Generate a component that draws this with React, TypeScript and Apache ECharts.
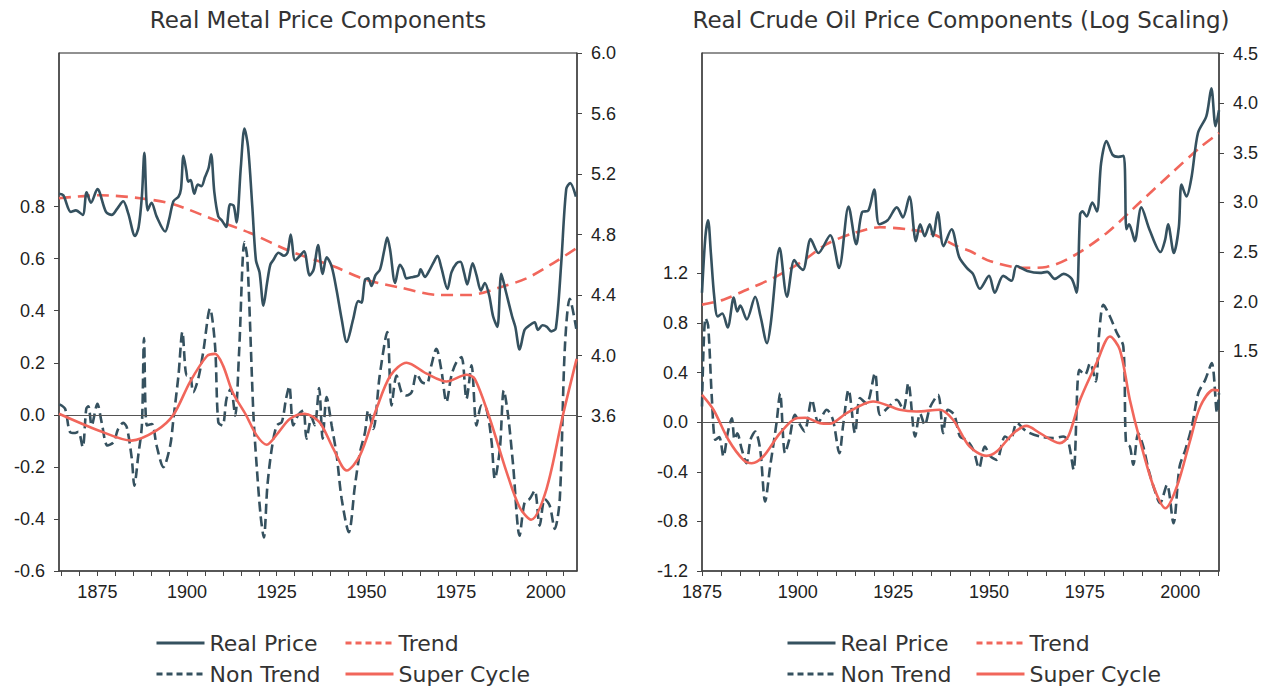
import React, { useEffect, useRef } from 'react';
import * as echarts from 'echarts';

const DARK = '#35515f';
const RED = '#f1665b';

// ---------- Metal panel ----------
const metalRealPrice: [number, number][] = [
  [1864.3, 5.07], [1865.5, 5.06], [1867.6, 4.95], [1869, 4.96], [1870.9, 4.93], [1872, 5.08], [1873.2, 5.01],
  [1875, 5.10], [1877.4, 4.95], [1879, 4.93], [1880.5, 4.97], [1882.2, 5.02], [1883.6, 4.94], [1885.5, 4.79],
  [1886.5, 4.85], [1887.4, 5.05], [1888.1, 5.34], [1889, 4.96], [1890.1, 5.01], [1891.5, 4.92], [1893.9, 4.82],
  [1895, 4.90], [1896.2, 5.02], [1897.6, 5.05], [1898.3, 5.10], [1899, 5.32], [1899.8, 5.22], [1900.3, 5.15],
  [1901, 5.16], [1902, 5.07], [1903, 5.13], [1904, 5.12], [1905, 5.18], [1906, 5.24], [1906.7, 5.33],
  [1907.6, 5.08], [1908.7, 4.92], [1909.8, 4.89], [1910.9, 4.85], [1912, 5.00], [1913, 4.99], [1913.8, 4.88],
  [1915, 5.25], [1916, 5.50], [1917, 5.38], [1918.2, 4.98], [1919.2, 4.63], [1920.2, 4.55], [1921.3, 4.33],
  [1922.3, 4.48], [1923.2, 4.60], [1924, 4.63], [1925.5, 4.68], [1927, 4.66], [1928, 4.68], [1928.9, 4.80],
  [1930.1, 4.63], [1931.5, 4.66], [1932.6, 4.69], [1934.2, 4.53], [1935.3, 4.57], [1936.5, 4.73], [1937.8, 4.54],
  [1938.9, 4.65], [1940.3, 4.59], [1941.7, 4.43], [1943.1, 4.24], [1944.5, 4.09], [1946.3, 4.24], [1947.7, 4.36],
  [1948.6, 4.35], [1949.6, 4.50], [1950.5, 4.51], [1951.4, 4.46], [1952.5, 4.53], [1953.8, 4.57], [1955, 4.70],
  [1955.8, 4.78], [1956.6, 4.70], [1958, 4.48], [1959.3, 4.60], [1960.2, 4.57], [1961.2, 4.51], [1963, 4.52],
  [1964.5, 4.53], [1965.1, 4.57], [1966.3, 4.52], [1967.7, 4.57], [1968.8, 4.62], [1969.8, 4.66], [1970.9, 4.58],
  [1972.6, 4.44], [1973.7, 4.55], [1975.1, 4.61], [1976.2, 4.62], [1977.2, 4.55], [1978.1, 4.47], [1979.6, 4.61],
  [1980.7, 4.53], [1981.9, 4.43], [1983, 4.48], [1984.2, 4.40], [1985.3, 4.26], [1986.5, 4.19], [1987.6, 4.54],
  [1988.8, 4.43], [1990.6, 4.26], [1991.5, 4.19], [1992.7, 4.04], [1994.1, 4.17], [1995.5, 4.20], [1996.9, 4.22],
  [1997.8, 4.17], [1999.1, 4.20], [2000.3, 4.19], [2001.5, 4.16], [2002.8, 4.18], [2004.3, 4.61], [2005.7, 5.10],
  [2006.8, 5.14], [2008.4, 5.05],
];
const metalTrend: [number, number][] = [
  [1864.3, 5.04], [1875.8, 5.06], [1886.9, 5.04], [1896.2, 5.00], [1907.4, 4.90], [1917.6, 4.81], [1928.7, 4.69],
  [1940.8, 4.59], [1950, 4.50], [1959.3, 4.45], [1970.4, 4.40], [1978.8, 4.40], [1987.1, 4.45], [1994.6, 4.51],
  [2002, 4.61], [2008.6, 4.71],
];
const metalNonTrend: [number, number][] = [
  [1864.4, 0.04], [1866, 0.023], [1867.4, -0.067], [1868.8, -0.07], [1869.7, -0.065], [1870.9, -0.124],
  [1871.9, 0.023], [1872.5, 0.033], [1873.4, -0.041], [1875, 0.042], [1876.2, -0.03], [1877.8, -0.118],
  [1879.5, -0.105], [1880.8, -0.054], [1882.2, -0.031], [1883.2, -0.048], [1884.6, -0.169], [1885.3, -0.272],
  [1886.4, -0.156], [1887.4, -0.041], [1888, 0.295], [1888.8, -0.041], [1890.2, -0.035], [1891.5, -0.118],
  [1893.4, -0.201], [1895.3, -0.118], [1896.2, -0.015], [1897.6, 0.151], [1898.7, 0.318], [1899.9, 0.151],
  [1900.8, 0.151], [1901.7, 0.087], [1903.1, 0.138], [1904.5, 0.241], [1906.4, 0.408], [1907.8, 0.266],
  [1908.7, -0.028], [1909.9, -0.041], [1911, 0.062], [1912.2, 0.10], [1913.4, -0.003], [1914.5, 0.24],
  [1916, 0.664], [1916.8, 0.60], [1918.5, 0.0], [1919.4, -0.195], [1920.5, -0.387], [1921.4, -0.471],
  [1922.4, -0.272], [1923.6, -0.131], [1925, -0.041], [1926.4, -0.028], [1927.6, 0.062], [1928.5, 0.110],
  [1929.6, -0.041], [1931, 0.0], [1932.4, 0.017], [1933.3, -0.092], [1934.7, -0.01], [1935.6, -0.04],
  [1936.8, 0.103], [1937.8, -0.092], [1938.9, 0.068], [1940.3, -0.04], [1941.7, -0.156], [1943.1, -0.323],
  [1945.1, -0.451], [1946.8, -0.272], [1948.2, -0.144], [1949.6, -0.067], [1950.5, 0.017], [1951.9, -0.054],
  [1953.7, 0.151], [1955.8, 0.318], [1957, 0.036], [1958.4, 0.151], [1959.8, 0.087], [1961.2, 0.074],
  [1962.6, 0.087], [1964, 0.158], [1965.4, 0.126], [1966.8, 0.119], [1968.1, 0.19], [1969.5, 0.254],
  [1970.9, 0.171], [1972.3, 0.049], [1973.7, 0.151], [1975.1, 0.203], [1976.5, 0.222], [1977.9, 0.062],
  [1979.3, 0.19], [1980.7, -0.041], [1982.1, 0.036], [1983.5, 0.02], [1984.9, -0.105], [1985.8, -0.246],
  [1987.2, -0.131], [1988.3, 0.094], [1989.5, -0.003], [1990.9, -0.195], [1992.7, -0.464], [1994.1, -0.336],
  [1995.5, -0.323], [1996.9, -0.291], [1998.3, -0.426], [1999.7, -0.323], [2001.1, -0.349], [2002.5, -0.438],
  [2003.9, -0.323], [2005.3, 0.254], [2006.7, 0.446], [2008.5, 0.331],
];
const metalSuperCycle: [number, number][] = [
  [1864.3, 0.004], [1875.3, -0.06], [1884.5, -0.099], [1891.5, -0.06], [1896.2, 0], [1900.8, 0.126],
  [1905.5, 0.225], [1907.8, 0.234], [1910, 0.19], [1912.7, 0.087], [1916.4, 0], [1919.4, -0.079],
  [1922.2, -0.115], [1925.5, -0.067], [1928.7, -0.015], [1932.8, 0.004], [1936.9, -0.028], [1940.8, -0.131],
  [1944.5, -0.214], [1948.2, -0.156], [1952.8, 0.023], [1956.7, 0.151], [1961.2, 0.2], [1966.8, 0.158],
  [1972.3, 0.128], [1977.9, 0.154], [1980.2, 0.138], [1984.4, -0.015], [1989.1, -0.221], [1992.7, -0.355],
  [1995.9, -0.403], [2000.2, -0.285], [2004.8, 0], [2008.6, 0.215],
];

// ---------- Oil panel ----------
const oilRealPrice: [number, number][] = [
  [1875, 2.09], [1875.9, 2.66], [1876.6, 2.82], [1877.3, 2.5], [1878.2, 2.05], [1879.1, 1.85], [1880.3, 1.88],
  [1881.7, 1.74], [1883.3, 2.04], [1884.2, 1.90], [1885, 1.96], [1886.7, 1.82], [1888.9, 2.05], [1890.3, 1.85],
  [1892, 1.58], [1893, 1.79], [1895.3, 2.54], [1897.2, 2.05], [1899.1, 2.42], [1900.2, 2.36], [1901.4, 2.32],
  [1903.4, 2.63], [1905.4, 2.49], [1908.5, 2.67], [1910.8, 2.34], [1913.3, 2.96], [1915.3, 2.58], [1916.8, 2.90],
  [1918.5, 2.92], [1920, 3.13], [1921.3, 2.78], [1923.5, 2.82], [1925.9, 2.95], [1927.5, 2.85], [1929.2, 3.06],
  [1930.9, 2.61], [1932, 2.78], [1933.2, 2.66], [1934.5, 2.78], [1935.4, 2.66], [1936.6, 2.90], [1938.1, 2.56],
  [1940.2, 2.73], [1942.2, 2.45], [1944.2, 2.34], [1945.8, 2.28], [1947.6, 2.13], [1950, 2.26], [1951.5, 2.09],
  [1953.7, 2.26], [1955.9, 2.21], [1957.2, 2.36], [1960, 2.31], [1963.3, 2.29], [1965.2, 2.30], [1967.2, 2.23],
  [1969.5, 2.28], [1971.6, 2.23], [1972.9, 2.09], [1973.8, 2.88], [1974.4, 2.91], [1975.5, 2.86], [1977, 3.00],
  [1978.2, 2.91], [1979.3, 3.40], [1980.7, 3.62], [1982.3, 3.48], [1983.8, 3.46], [1985.2, 3.47], [1985.9, 2.73],
  [1986.6, 2.78], [1987.4, 2.70], [1988.1, 2.61], [1989.8, 2.95], [1992, 2.72], [1994.8, 2.50], [1996, 2.62],
  [1996.8, 2.78], [1998.3, 2.49], [1999.6, 2.75], [2000.3, 3.18], [2001.6, 3.06], [2002.9, 3.25], [2004.6, 3.70],
  [2006.8, 3.87], [2008.1, 4.15], [2009.2, 3.77], [2010.1, 3.93],
];
const oilTrend: [number, number][] = [
  [1875, 1.97], [1880.6, 2.02], [1886.7, 2.12], [1893.7, 2.24], [1900.6, 2.39], [1907.6, 2.58], [1914.6, 2.69],
  [1921.5, 2.75], [1928.5, 2.73], [1935.4, 2.68], [1941.5, 2.56], [1945, 2.51], [1950.2, 2.41], [1958.9, 2.34],
  [1965, 2.35], [1972, 2.46], [1980.7, 2.69], [1989.4, 3.00], [1998.1, 3.31], [2005, 3.55], [2010.1, 3.70],
];
const oilNonTrend: [number, number][] = [
  [1875, 0.126], [1875.9, 0.84], [1876.6, 0.78], [1877.6, 0.18], [1878.5, -0.142], [1879.5, -0.12],
  [1880.6, -0.277], [1881.7, -0.09], [1882.8, 0.032], [1883.5, -0.14], [1884.2, -0.09], [1885.4, -0.22],
  [1886.6, -0.331], [1887.7, -0.14], [1888.9, -0.075], [1890.2, -0.22], [1891.5, -0.64], [1892.8, -0.36],
  [1894.5, 0.0], [1895.4, 0.234], [1896.7, -0.25], [1897.8, -0.14], [1899.3, 0.059], [1900.6, -0.02],
  [1901.8, -0.075], [1903.7, 0.18], [1905.4, 0.0], [1907.6, 0.10], [1909.2, 0.02], [1910.9, -0.25],
  [1911.9, -0.02], [1913.3, 0.261], [1915, -0.089], [1916.3, 0.194], [1918, 0.15], [1920.2, 0.395],
  [1921.5, 0.059], [1923.7, 0.12], [1925.9, 0.18], [1927.6, 0.10], [1928.9, 0.315], [1930.7, -0.116],
  [1932, 0.07], [1933.2, -0.022], [1934.6, 0.12], [1936.7, 0.22], [1938, -0.089], [1939.2, 0.10],
  [1940.9, 0.06], [1942.4, -0.116], [1944.1, -0.142], [1945.9, -0.223], [1947.4, -0.371], [1948.9, -0.196],
  [1950.4, -0.276], [1952, -0.304], [1954.2, -0.116], [1955.6, -0.14], [1957.3, -0.008], [1959.8, -0.075],
  [1963.3, -0.116], [1966.8, -0.129], [1969.4, -0.116], [1970.7, -0.155], [1972.1, -0.384], [1973.6, 0.422],
  [1975.1, 0.382], [1976.4, 0.475], [1977.9, 0.328], [1978.8, 0.72], [1979.9, 0.946], [1981.6, 0.852],
  [1983.4, 0.72], [1985.1, 0.61], [1985.8, -0.169], [1986.8, -0.196], [1987.7, -0.344], [1989, -0.089],
  [1990.3, -0.196], [1991.7, -0.384], [1993.2, -0.54], [1994.7, -0.653], [1996.5, -0.505], [1998.2, -0.815],
  [1999.8, -0.358], [2001.3, -0.223], [2003, -0.035], [2004.7, 0.234], [2006.5, 0.341], [2008.2, 0.476],
  [2009.6, 0.073], [2010.1, 0.234],
];
const oilSuperCycle: [number, number][] = [
  [1875, 0.22], [1878, 0.10], [1881.9, -0.142], [1885.8, -0.304], [1888, -0.331], [1891, -0.277],
  [1895.4, -0.089], [1899.7, 0.032], [1902, 0.035], [1905.8, -0.008], [1908.4, -0.013], [1912.8, 0.073],
  [1919.7, 0.167], [1926.7, 0.10], [1931, 0.086], [1937.1, 0.10], [1940.6, 0.019], [1944.9, -0.196],
  [1949.3, -0.272], [1952, -0.237], [1956.4, -0.089], [1959.8, -0.03], [1963.3, -0.089], [1968.5, -0.169],
  [1970.7, -0.116], [1973.8, 0.18], [1978.1, 0.476], [1981.6, 0.691], [1984.2, 0.583], [1986.8, 0.18],
  [1989.4, -0.142], [1993, -0.519], [1996.1, -0.694], [1999.1, -0.519], [2002.6, -0.142], [2005.2, 0.126],
  [2008.7, 0.26], [2010.1, 0.255],
];

// ---------- tick labels ----------
const yearLabels = [1875, 1900, 1925, 1950, 1975, 2000];
const metalYearTicks = [1865, 1870, 1875, 1880, 1885, 1890, 1895, 1900, 1905, 1910, 1915, 1920, 1925, 1930, 1935, 1940, 1945, 1950, 1955, 1960, 1965, 1970, 1975, 1980, 1985, 1990, 1995, 2000, 2005];
const oilYearTicks = [1875, 1880, 1885, 1890, 1895, 1900, 1905, 1910, 1915, 1920, 1925, 1930, 1935, 1940, 1945, 1950, 1955, 1960, 1965, 1970, 1975, 1980, 1985, 1990, 1995, 2000, 2005, 2010];
const metalLeftTicks = [-0.6, -0.4, -0.2, 0.0, 0.2, 0.4, 0.6, 0.8];
const metalRightTicks = [3.6, 4.0, 4.4, 4.8, 5.2, 5.6, 6.0];
const oilLeftTicks = [-1.2, -0.8, -0.4, 0.0, 0.4, 0.8, 1.2];
const oilRightTicks = [1.5, 2.0, 2.5, 3.0, 3.5, 4.0, 4.5];

const AXIS_COLOR = '#444';
const LABEL_FONT = { fontSize: 18, color: '#222', fontFamily: 'Liberation Sans, Arial, sans-serif' };

function xAxis(gridIndex: number, min: number, max: number, ticks: number[]) {
  return {
    type: 'value', gridIndex, min, max,
    axisLine: { show: true, onZero: false, lineStyle: { color: AXIS_COLOR, width: 1.5 } },
    axisTick: { show: true, length: 5, customValues: ticks, lineStyle: { color: AXIS_COLOR, width: 1 } },
    axisLabel: { customValues: yearLabels, margin: 12, ...LABEL_FONT, formatter: (v: number) => String(Math.round(v)) },
    splitLine: { show: false },
  };
}
function yAxis(gridIndex: number, position: string, min: number, max: number, ticks: number[]) {
  return {
    type: 'value', gridIndex, position, min, max,
    axisLine: { show: true, onZero: false, lineStyle: { color: AXIS_COLOR, width: 1.5 } },
    axisTick: { show: true, length: 5, customValues: ticks, lineStyle: { color: AXIS_COLOR, width: 1 } },
    axisLabel: { customValues: ticks, margin: 14, ...LABEL_FONT, formatter: (v: number) => v.toFixed(1) },
    splitLine: { show: false },
  };
}

const SMOOTH = 0.3;
function lineSeries(name: string, data: [number, number][], xi: number, yi: number, color: string, dash: any, z: number, extra: any = {}) {
  return {
    type: 'line', name, data, xAxisIndex: xi, yAxisIndex: yi, smooth: SMOOTH, symbol: 'none', showSymbol: false,
    lineStyle: { color, width: 2.6, type: dash }, itemStyle: { color }, z, silent: true, ...extra,
  };
}
const zeroLine = {
  markLine: {
    silent: true, symbol: ['none', 'none'], label: { show: false },
    lineStyle: { color: '#555', width: 1, type: 'solid' }, data: [{ yAxis: 0 }],
  },
};

const LEG_FONT = { fontSize: 22, color: '#333', fontFamily: 'DejaVu Sans, sans-serif' };
function legend(name: string, left: number, top: number, dashed: boolean) {
  return {
    data: [name], left, top, padding: 0, itemWidth: 48, itemHeight: 14, selectedMode: false,
    textStyle: LEG_FONT,
    itemStyle: { opacity: 0 },
    lineStyle: dashed ? { type: [6, 4], width: 3 } : { width: 3 },
  };
}

const TITLE_FONT = '23px "DejaVu Sans", sans-serif';

export default function App() {
  const ref = useRef<HTMLDivElement>(null);
  useEffect(() => {
    const chart = echarts.init(ref.current!, null, { renderer: 'svg' });
    const option: any = {
      animation: false,
      backgroundColor: '#ffffff',
      grid: [
        { left: 59, top: 53, width: 518, height: 518, show: true, borderColor: '#222', borderWidth: 1 },
        { left: 702, top: 53, width: 517, height: 518, show: true, borderColor: '#222', borderWidth: 1 },
      ],
      xAxis: [xAxis(0, 1864.3, 2008.7, metalYearTicks), xAxis(1, 1875, 2010.1, oilYearTicks)],
      yAxis: [
        yAxis(0, 'left', -0.6, 1.39, metalLeftTicks),
        yAxis(0, 'right', 2.576, 6.0, metalRightTicks),
        yAxis(1, 'left', -1.2, 2.976, oilLeftTicks),
        yAxis(1, 'right', -0.716, 4.507, oilRightTicks),
      ],
      graphic: [
        { type: 'text', x: 318, y: 20, style: { text: 'Real Metal Price Components', font: TITLE_FONT, fill: '#333', align: 'center', verticalAlign: 'middle', textAlign: 'center', textVerticalAlign: 'middle' } },
        { type: 'text', x: 961, y: 20, style: { text: 'Real Crude Oil Price Components (Log Scaling)', font: TITLE_FONT, fill: '#333', align: 'center', verticalAlign: 'middle', textAlign: 'center', textVerticalAlign: 'middle' } },
      ],
      legend: [
        legend('Real Price', 155, 632, false),
        legend('Trend', 344, 632, true),
        legend('Non Trend', 155, 663, true),
        legend('Super Cycle', 344, 663, false),
        legend('Real Price', 786, 632, false),
        legend('Trend', 975, 632, true),
        legend('Non Trend', 786, 663, true),
        legend('Super Cycle', 975, 663, false),
      ],
      series: [
        lineSeries('Trend', metalTrend, 0, 1, RED, [12, 7], 2),
        lineSeries('Real Price', metalRealPrice, 0, 1, DARK, 'solid', 3),
        lineSeries('Non Trend', metalNonTrend, 0, 0, DARK, [10, 5], 4, zeroLine),
        lineSeries('Super Cycle', metalSuperCycle, 0, 0, RED, 'solid', 5),
        lineSeries('Trend', oilTrend, 1, 3, RED, [12, 7], 2),
        lineSeries('Real Price', oilRealPrice, 1, 3, DARK, 'solid', 3),
        lineSeries('Non Trend', oilNonTrend, 1, 2, DARK, [10, 5], 4, zeroLine),
        lineSeries('Super Cycle', oilSuperCycle, 1, 2, RED, 'solid', 5),
      ],
    };
    chart.setOption(option);
    return () => chart.dispose();
  }, []);
  return <div ref={ref} style={{ position: 'absolute', left: 0, top: 0, width: 1270, height: 688 }} />;
}
